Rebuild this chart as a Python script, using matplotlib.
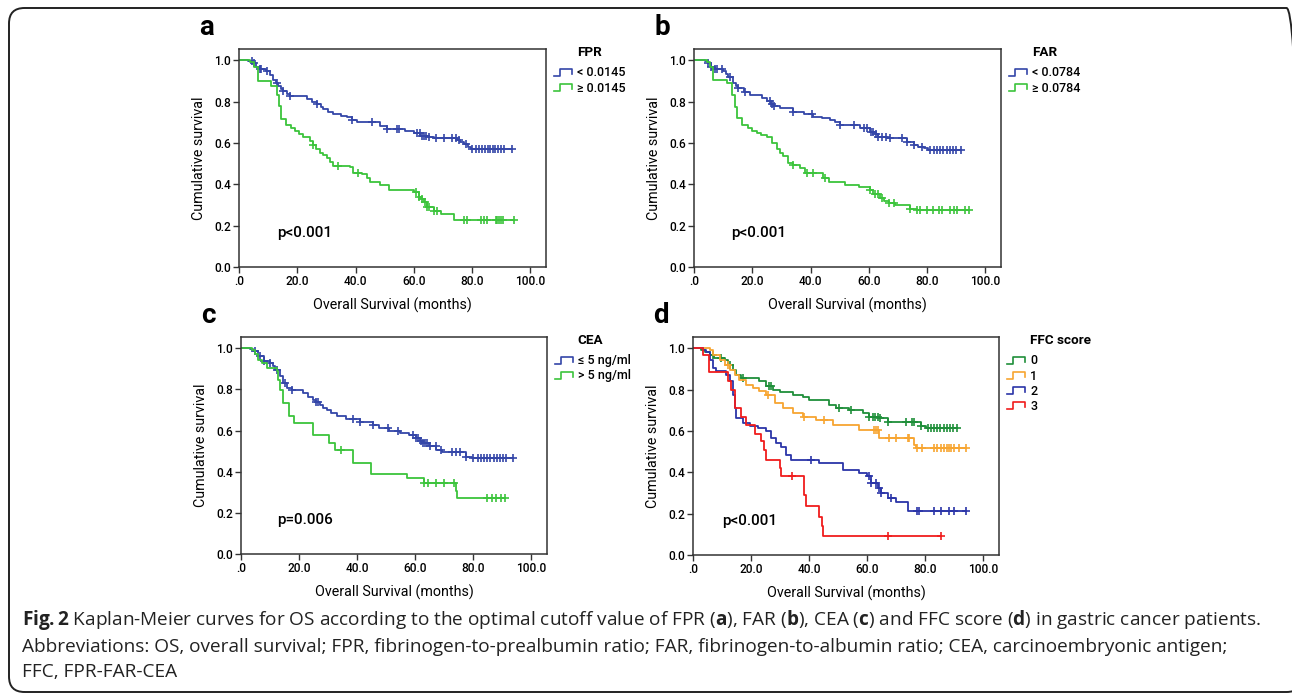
import numpy as np
import matplotlib
matplotlib.use("Agg")
import matplotlib.pyplot as plt
from matplotlib.lines import Line2D
from matplotlib.legend_handler import HandlerBase
from matplotlib.patches import FancyBboxPatch

plt.rcParams['font.family'] = ['Roboto', 'DejaVu Sans']
plt.rcParams['font.weight'] = 'medium'
plt.rcParams['mathtext.fontset'] = 'custom'
plt.rcParams['mathtext.rm'] = 'Open Sans'
plt.rcParams['mathtext.bf'] = 'Open Sans:bold'

# ---- data (event times, survival after event, censored times) ----
# a: FPR
a_lo_t = [3.1, 4.8, 6.0, 7.1, 9.4, 10.8, 11.7, 12.6, 13.4, 14.3, 15.2, 16.5, 17.5, 23.2, 25.0, 26.7, 28.0, 29.0,
          30.5, 32.4, 35.0, 37.0, 38.7, 40.5, 48.5, 50.8, 57.0, 60.0, 62.3, 65.0, 66.9, 74.9, 76.0, 77.2, 78.5, 79.5]
a_lo_s = [0.995, 0.985, 0.970, 0.958, 0.947, 0.930, 0.906, 0.890, 0.874, 0.862, 0.853, 0.838, 0.826, 0.812, 0.800,
          0.790, 0.776, 0.764, 0.752, 0.741, 0.733, 0.725, 0.712, 0.704, 0.683, 0.670, 0.660, 0.647, 0.634, 0.628,
          0.623, 0.614, 0.605, 0.595, 0.583, 0.572]
a_lo_c = [4.3, 5.1, 7.1, 7.7, 9.7, 12.9, 15.2, 17.5, 26.7, 38.7, 45.6, 50.8, 54.3, 54.8, 61.2, 62.0, 62.8, 63.5,
          64.2, 65.1, 67.5, 70.4, 73.2, 74.4, 75.5, 77.8, 80.1, 81.5, 82.5, 83.5, 84.5, 85.5, 86.3, 87.2, 88.0,
          89.0, 90.0, 91.0, 93.8]
a_hi_t = [3.7, 5.0, 6.6, 11.1, 12.9, 13.8, 14.4, 16.3, 17.8, 19.2, 20.5, 22.0, 24.4, 25.5, 26.6, 27.8, 29.0, 30.1,
          31.3, 32.4, 38.2, 39.3, 42.2, 44.0, 45.1, 48.5, 51.4, 60.0, 61.7, 62.6, 63.4, 64.6, 66.9, 69.2, 73.8]
a_hi_s = [0.99, 0.97, 0.902, 0.874, 0.833, 0.777, 0.717, 0.688, 0.672, 0.659, 0.645, 0.631, 0.612, 0.590, 0.572,
          0.553, 0.540, 0.526, 0.508, 0.490, 0.482, 0.456, 0.450, 0.432, 0.413, 0.396, 0.375, 0.364, 0.340, 0.328,
          0.316, 0.291, 0.272, 0.256, 0.227]
a_hi_c = [25.5, 34.1, 41.0, 60.6, 61.7, 62.9, 63.8, 64.6, 65.2, 66.9, 68.0, 77.2, 78.4, 83.0, 84.1, 85.3, 88.2,
          88.7, 89.3, 89.9, 90.8, 94.5]

# b: FAR
b_lo_t = [3.8, 4.9, 6.0, 7.2, 10.1, 11.0, 11.8, 13.5, 14.4, 15.2, 17.0, 19.2, 23.5, 25.0, 26.5, 27.3, 29.6, 34.1,
          37.6, 41.0, 44.0, 46.7, 48.5, 50.2, 57.0, 60.5, 62.0, 63.3, 66.2, 73.0, 75.4, 77.0, 78.8, 80.5]
b_lo_s = [0.995, 0.985, 0.970, 0.958, 0.950, 0.935, 0.918, 0.892, 0.878, 0.865, 0.849, 0.833, 0.820, 0.805, 0.790,
          0.779, 0.768, 0.752, 0.739, 0.728, 0.720, 0.712, 0.700, 0.688, 0.671, 0.655, 0.642, 0.631, 0.623, 0.607,
          0.591, 0.583, 0.575, 0.564]
b_lo_c = [4.9, 6.0, 7.2, 8.0, 9.5, 12.4, 15.2, 17.5, 26.1, 26.7, 27.3, 34.1, 40.4, 50.2, 54.8, 58.2, 59.5, 60.6,
          61.6, 62.5, 63.3, 64.5, 65.9, 67.4, 71.3, 73.0, 75.4, 78.3, 81.1, 82.3, 83.4, 84.5, 85.6, 86.7, 87.8,
          88.9, 90.0, 91.6]
b_hi_t = [4.4, 5.5, 6.4, 11.5, 12.9, 14.1, 14.9, 16.4, 18.7, 20.0, 21.5, 23.0, 25.0, 26.7, 28.4, 29.5, 30.7, 32.4,
          34.1, 36.4, 38.1, 44.4, 46.2, 51.9, 56.5, 60.5, 61.6, 63.9, 65.1, 66.8, 69.1, 74.2, 76.5]
b_hi_s = [0.99, 0.97, 0.905, 0.889, 0.833, 0.776, 0.720, 0.688, 0.673, 0.660, 0.647, 0.640, 0.631, 0.599, 0.570,
          0.552, 0.535, 0.502, 0.494, 0.481, 0.457, 0.430, 0.411, 0.395, 0.386, 0.374, 0.354, 0.333, 0.317, 0.309,
          0.298, 0.280, 0.274]
b_hi_c = [34.1, 38.7, 41.0, 45.0, 60.5, 62.2, 63.3, 64.5, 66.8, 68.5, 74.2, 76.5, 77.7, 80.0, 82.2, 84.0, 85.1,
          88.0, 89.1, 90.3, 93.1, 94.3]

# c: CEA
c_lo_t = [3.2, 4.3, 6.0, 7.8, 10.0, 11.0, 11.8, 13.5, 14.6, 15.8, 17.5, 21.5, 23.2, 24.9, 26.0, 27.2, 28.4, 29.5,
          31.0, 32.9, 36.3, 40.9, 45.4, 47.7, 51.1, 54.6, 58.0, 60.3, 61.5, 62.6, 64.8, 67.1, 69.4, 77.4, 79.7]
c_lo_s = [0.995, 0.985, 0.961, 0.937, 0.929, 0.912, 0.896, 0.864, 0.831, 0.807, 0.795, 0.782, 0.763, 0.750, 0.738,
          0.726, 0.712, 0.701, 0.686, 0.672, 0.656, 0.640, 0.628, 0.612, 0.596, 0.588, 0.580, 0.563, 0.550, 0.539,
          0.523, 0.506, 0.498, 0.474, 0.466]
c_lo_c = [4.9, 6.6, 7.8, 10.0, 12.3, 15.2, 17.5, 26.0, 26.6, 38.6, 40.9, 45.4, 50.6, 54.0, 59.1, 60.3, 61.1, 61.9,
          62.6, 63.4, 64.2, 65.1, 67.0, 69.0, 72.6, 74.0, 75.4, 77.6, 80.0, 81.5, 82.6, 83.7, 84.8, 85.9, 87.0,
          88.1, 89.2, 90.3, 91.4, 93.8]
c_hi_t = [3.8, 4.9, 5.7, 7.2, 8.9, 12.3, 12.9, 13.5, 14.6, 16.7, 18.3, 24.9, 30.4, 32.3, 38.6, 44.9, 57.1, 63.1,
          74.0, 74.5]
c_hi_s = [0.99, 0.97, 0.945, 0.929, 0.904, 0.888, 0.847, 0.799, 0.734, 0.669, 0.636, 0.580, 0.539, 0.506, 0.442,
          0.390, 0.369, 0.344, 0.304, 0.271]
c_hi_c = [34.6, 63.1, 64.3, 67.1, 70.0, 73.4, 84.8, 86.5, 87.9, 89.4, 91.1]

# d: FFC score 0-3
d0_t = [2.9, 4.0, 5.7, 7.4, 10.9, 12.0, 13.7, 14.9, 16.6, 22.9, 25.2, 27.5, 29.8, 34.4, 37.8, 40.1, 47.0, 49.3,
        53.8, 58.4, 60.7, 64.1, 67.0, 78.5, 80.2]
d0_s = [0.99, 0.98, 0.969, 0.953, 0.945, 0.921, 0.897, 0.872, 0.856, 0.840, 0.819, 0.800, 0.787, 0.776, 0.764,
        0.751, 0.727, 0.709, 0.702, 0.687, 0.670, 0.662, 0.646, 0.622, 0.614]
d0_c = [6.9, 9.7, 12.6, 17.2, 26.3, 26.9, 50.4, 54.4, 60.7, 61.9, 62.8, 63.6, 64.4, 67.0, 73.3, 75.6, 76.2, 78.5,
        80.8, 82.0, 83.0, 84.1, 85.2, 86.3, 87.4, 88.5, 89.6, 91.1]
d1_t = [5.7, 6.9, 9.2, 10.9, 12.6, 14.3, 16.0, 18.3, 20.6, 22.9, 25.2, 28.1, 30.9, 34.4, 37.8, 42.4, 48.1, 57.3,
        64.1, 76.2, 76.7]
d1_s = [0.99, 0.97, 0.945, 0.921, 0.897, 0.872, 0.848, 0.824, 0.808, 0.792, 0.775, 0.735, 0.711, 0.687, 0.670,
        0.654, 0.630, 0.606, 0.565, 0.533, 0.517]
d1_c = [12.0, 25.8, 38.4, 45.2, 62.4, 63.0, 63.6, 67.6, 69.9, 73.9, 74.5, 77.3, 79.0, 83.0, 84.2, 85.3, 86.5, 87.6,
        88.2, 88.8, 89.9, 91.6, 93.9]
d2_t = [3.4, 4.6, 5.7, 6.9, 7.8, 11.5, 12.6, 13.7, 14.3, 14.9, 17.2, 19.5, 22.3, 25.2, 26.9, 28.6, 30.4, 32.1,
        33.8, 43.5, 51.5, 57.3, 60.1, 61.3, 63.6, 64.7, 67.0, 69.9, 73.9]
d2_s = [0.99, 0.98, 0.945, 0.905, 0.892, 0.872, 0.840, 0.775, 0.711, 0.662, 0.638, 0.625, 0.614, 0.598, 0.565,
        0.541, 0.522, 0.485, 0.460, 0.444, 0.412, 0.399, 0.380, 0.347, 0.323, 0.299, 0.275, 0.258, 0.213]
d2_c = [40.7, 60.7, 61.3, 63.2, 64.1, 64.7, 68.2, 77.3, 77.9, 83.0, 85.3, 88.2, 89.9, 93.9]
d3_t = [3.4, 5.5, 12.0, 13.2, 14.3, 16.6, 18.3, 21.2, 23.5, 24.6, 25.2, 29.8, 30.4, 38.4, 38.9, 43.5, 44.4, 44.9]
d3_s = [0.969, 0.885, 0.840, 0.800, 0.711, 0.670, 0.630, 0.585, 0.552, 0.509, 0.460, 0.420, 0.383, 0.291, 0.237,
        0.186, 0.141, 0.091]
d3_c = [34.1, 67.0, 85.3]

x_ticks = [0, 20, 40, 60, 80, 100]
x_labels = ['.0', '20.0', '40.0', '60.0', '80.0', '100.0']
y_ticks = [0.0, 0.2, 0.4, 0.6, 0.8, 1.0]
y_labels = ['0.0', '0.2', '0.4', '0.6', '0.8', '1.0']

BLUE = '#3446a8'
GREEN = '#3cc43c'

panels = [
    dict(letter='a', title='FPR', p='p<0.001', px=13.2,
         curves=[(a_lo_t, a_lo_s, a_lo_c, BLUE, '< 0.0145'), (a_hi_t, a_hi_s, a_hi_c, GREEN, '\u2265 0.0145')]),
    dict(letter='b', title='FAR', p='p<0.001', px=12.6,
         curves=[(b_lo_t, b_lo_s, b_lo_c, BLUE, '< 0.0784'), (b_hi_t, b_hi_s, b_hi_c, GREEN, '\u2265 0.0784')]),
    dict(letter='c', title='CEA', p='p=0.006', px=12.3,
         curves=[(c_lo_t, c_lo_s, c_lo_c, BLUE, '\u2264 5 ng/ml'), (c_hi_t, c_hi_s, c_hi_c, GREEN, '> 5 ng/ml')]),
    dict(letter='d', title='FFC score', p='p<0.001', px=10.1,
         curves=[(d0_t, d0_s, d0_c, '#1f8f3a', '0'), (d1_t, d1_s, d1_c, '#f7a531', '1'),
                 (d2_t, d2_s, d2_c, '#2b35a8', '2'), (d3_t, d3_s, d3_c, '#f01c1c', '3')]),
]

# axes boxes in pixels: left, bottom(from top), width, height
W, H = 1292, 695
boxes = [(239, 267, 307, 218), (694, 267, 307, 218), (241, 554, 306, 217), (693, 555, 306, 218)]


class StepHandler(HandlerBase):
    def create_artists(self, legend, orig, xd, yd, width, height, fontsize, trans):
        x0, y0 = -xd, -yd
        xs = [x0, x0 + 0.35 * width, x0 + 0.35 * width, x0 + width, x0 + width]
        ys = [y0 + 0.05 * height, y0 + 0.05 * height, y0 + 0.85 * height, y0 + 0.85 * height, y0 + 0.3 * height]
        ln = Line2D(xs, ys, color=orig.get_color(), lw=1.2, transform=trans)
        return [ln]


fig = plt.figure(figsize=(W / 100, H / 100), dpi=100)
fig.patch.set_facecolor('white')

frame = FancyBboxPatch((9 / W, 3 / H), (1302 - 9) / W, (687 - 3) / H,
                       boxstyle='round,pad=0,rounding_size=0.012', transform=fig.transFigure,
                       fill=False, ec='#222222', lw=1.4, mutation_aspect=W / H)
fig.patches.append(frame)

for pan, (l, b, w, h) in zip(panels, boxes):
    ax = fig.add_axes([l / W, 1 - b / H, w / W, h / H])
    handles = []
    for t, s, cens, col, lab in pan['curves']:
        t = np.asarray(t)
        s = np.asarray(s)
        tmax = max(max(cens), t[-1])
        xs = np.concatenate([[0], t, [tmax]])
        ys = np.concatenate([[1.0], s, [s[-1]]])
        ax.step(xs, ys, where='post', color=col, lw=1.3)
        # censor marks sit on the curve
        idx = np.searchsorted(xs, cens, side='right') - 1
        ax.plot(cens, ys[idx], ls='none', marker='+', ms=6, mew=1.2, color=col)
        handles.append(Line2D([], [], color=col, label=lab))

    ax.set_xlim(0, 105.4)
    ax.set_ylim(0, 1.055)
    ax.set_xticks(x_ticks)
    ax.set_xticklabels(x_labels)
    ax.set_yticks(y_ticks)
    ax.set_yticklabels(y_labels)
    ax.tick_params(labelsize=8.6, length=4, width=1, color='#333333', pad=2)
    for sp in ax.spines.values():
        sp.set_color('#333333')
        sp.set_linewidth(1.1)
    ax.set_xlabel('Overall Survival (months)', fontsize=10.3, labelpad=7)
    ax.set_ylabel('Cumulative survival', fontsize=10.3, labelpad=6)

    ax.text(pan['px'], 0.163, pan['p'], fontsize=11, va='center', ha='left')
    ax.text(-0.13, 1.1, pan['letter'], transform=ax.transAxes, fontsize=20, fontweight='bold',
            va='center', ha='left')

    ax.legend(handles=handles, handler_map={Line2D: StepHandler()}, loc='upper left',
              bbox_to_anchor=(1.025, 0.92), frameon=False, fontsize=9, borderpad=0, borderaxespad=0,
              handlelength=1.45, handletextpad=0.45, labelspacing=0.17)
    ax.text(1.10, 0.985, pan['title'], transform=ax.transAxes, fontsize=9.7, fontweight='bold',
            va='center', ha='left')

# caption
cap1 = (r'$\mathbf{Fig.\!\!\;2}$ Kaplan-Meier curves for OS according to the optimal cutoff value of FPR '
        r'($\mathbf{a}$), FAR ($\mathbf{b}$), CEA ($\mathbf{c}$) and FFC score ($\mathbf{d}$) in gastric cancer patients.')
cap2 = ('Abbreviations: OS, overall survival; FPR, fibrinogen-to-prealbumin ratio; FAR, fibrinogen-to-albumin ratio; '
        'CEA, carcinoembryonic antigen;')
cap3 = 'FFC, FPR-FAR-CEA'

cap_kw = dict(family='Open Sans', fontweight='normal', va='center', ha='left', color='#222222')
t1 = fig.text(22 / W, 1 - 620 / H, cap1, fontsize=12, **cap_kw)
fig.canvas.draw()
wpx = t1.get_window_extent().width
fs = 12 * (1235 / wpx)
t1.set_fontsize(fs)
fig.text(22 / W, 1 - 647 / H, cap2, fontsize=fs, **cap_kw)
fig.text(22 / W, 1 - 672 / H, cap3, fontsize=fs, **cap_kw)

fig.savefig('out.png', dpi=100)
